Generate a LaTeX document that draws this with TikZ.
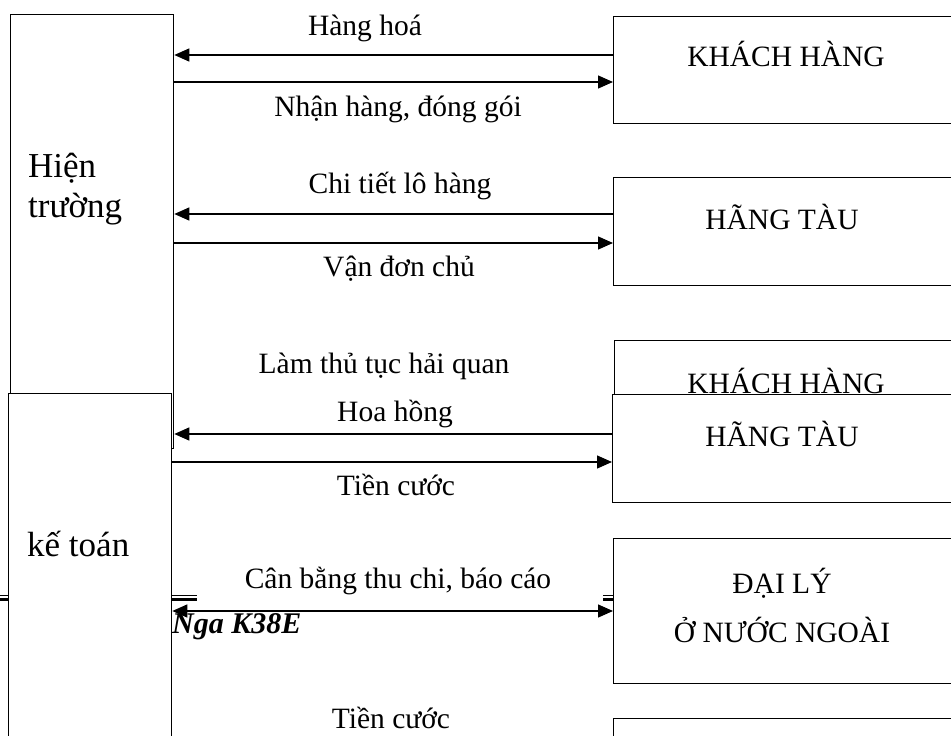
\documentclass[tikz,border=0pt]{standalone}
\usepackage{fontspec}
\setmainfont{Liberation Serif}
\usetikzlibrary{arrows.meta, positioning}
\tikzset{
    deptbox/.style={rectangle, draw=black, fill=white, line width=1.3pt, anchor=north west, inner sep=0pt, minimum width=163pt},
    partybox/.style={rectangle, draw=black, fill=white, line width=1.3pt, anchor=north west, inner sep=0pt, minimum width=341pt},
    arrow/.style={line width=1.3pt, -{Triangle[length=15pt, width=13pt]}},
    dblarrow/.style={line width=1.3pt, {Triangle[length=15pt, width=13pt]}-{Triangle[length=15pt, width=13pt]}},
    flowlabel/.style={font=\fontsize{29.5}{34}\selectfont, inner sep=0pt, anchor=base},
    boxlabel/.style={font=\fontsize{29.5}{49}\selectfont, inner sep=0pt, anchor=base, align=center},
    deptlabel/.style={font=\fontsize{35}{40}\selectfont, inner sep=0pt, anchor=base west, align=left},
    footlabel/.style={font=\fontsize{30}{36}\selectfont\bfseries\itshape, inner sep=0pt},
    thinrule/.style={line width=1pt},
    thickrule/.style={line width=2.4pt}
}

\begin{document}
\begin{tikzpicture}[x=1pt, y=-1pt]
    \path[use as bounding box, fill=white] (0,0) rectangle (951,736);
    \clip (0,0) rectangle (951,736);

    % Nodes
    \node (ht) [deptbox, minimum height=434pt] at (10,14) {};
    \node (htlbl) [deptlabel] at (28,217) {Hiện\\trường};

    \draw [thinrule] (0,595) -- (10,595);
    \draw [thickrule] (0,599.5) -- (10,599.5);

    \node (kt) [deptbox, minimum height=370pt] at (8,393) {};
    \node (ktlbl) [deptlabel] at (27,556) {kế toán};

    \node (kh1) [partybox, minimum height=107pt] at (613,16) {};
    \node (kh1lbl) [boxlabel] at (786,66) {KHÁCH HÀNG};
    \node (tau1) [partybox, minimum height=108pt] at (613,177) {};
    \node (tau1lbl) [boxlabel] at (782,229) {HÃNG TÀU};

    \node (kh2) [partybox, minimum height=80pt] at (614,340) {};
    \node (kh2lbl) [boxlabel] at (786,393) {KHÁCH HÀNG};
    \node (tau2) [partybox, minimum height=108pt] at (612,394) {};
    \node (tau2lbl) [boxlabel] at (782,446) {HÃNG TÀU};

    \node (daily) [partybox, minimum height=145pt] at (613,538) {};
    \node (dailylbl) [boxlabel] at (782,642) {ĐẠI LÝ\\Ở NƯỚC NGOÀI};
    \node (nextbox) [partybox, minimum height=60pt] at (613,718) {};

    \node (lhanghoa) [flowlabel] at (365,35) {Hàng hoá};
    \node (lnhanhang) [flowlabel] at (398,116) {Nhận hàng, đóng gói};
    \node (lchitiet) [flowlabel] at (400,193) {Chi tiết lô hàng};
    \node (lvandon) [flowlabel] at (399,276) {Vận đơn chủ};
    \node (lthutuc) [flowlabel] at (384,373) {Làm thủ tục hải quan};
    \node (lhoahong) [flowlabel] at (395,421) {Hoa hồng};
    \node (ltiencuoc) [flowlabel] at (396,495) {Tiền cước};
    \node (lcanbang) [flowlabel] at (398,588) {Cân bằng thu chi, báo cáo};
    \node (ltiencuoc2) [flowlabel] at (391,728) {Tiền cước};

    % footer rule and name
    \draw [thinrule] (kt.east |- 0,595) -- (197,595);
    \draw [thickrule] (kt.east |- 0,599.5) -- (197,599.5);
    \draw [thinrule] (603,595) -- (daily.west |- 0,595);
    \draw [thickrule] (603,599.5) -- (daily.west |- 0,599.5);
    \node (footr) [footlabel, anchor=base west] at (172,633) {Nga K38E};

    % Arrows
    \draw [arrow] (kh1.west |- 0,55) -- (ht.east |- 0,55);
    \draw [arrow] (ht.east |- 0,82) -- (kh1.west |- 0,82);
    \draw [arrow] (tau1.west |- 0,214) -- (ht.east |- 0,214);
    \draw [arrow] (ht.east |- 0,243) -- (tau1.west |- 0,243);
    \draw [arrow] (tau2.west |- 0,434) -- (ht.east |- 0,434);
    \draw [arrow] (kt.east |- 0,462) -- (tau2.west |- 0,462);
    \draw [dblarrow] (kt.east |- 0,611) -- (daily.west |- 0,611);
\end{tikzpicture}
\end{document}
